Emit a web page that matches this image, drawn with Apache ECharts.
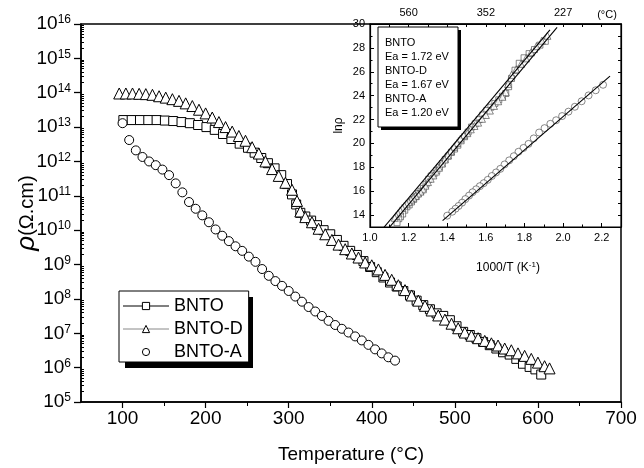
<!DOCTYPE html>
<html><head><meta charset="utf-8">
<script src="https://cdn.jsdelivr.net/npm/echarts@6/dist/echarts.min.js"></script>
<style>html,body{margin:0;padding:0;background:#fff}#c{width:644px;height:468px}</style>
</head><body><div id="c"></div>
<script>
// ---------- main plot data (Temperature °C, resistivity Ω.cm) ----------
const bntoT = [101,111,121,131,141,151,161,171,181,191,201,211,221,231,241,251,259,267,275,283,291,298,304,309,314,320,327,334,342,350,358,366,374,382,390,398,406,414,422,430,438,446,454,462,470,478,486,494,502,510,518,526,534,542,550,558,566,574,582,590,597,604];
const bntoRho = [1.6e13,1.6e13,1.6e13,1.6e13,1.6e13,1.55e13,1.5e13,1.4e13,1.3e13,1.15e13,1.0e13,8.3e12,6.3e12,4.5e12,3.3e12,2.5e12,1.8e12,1.26e12,8.9e11,6.3e11,4.0e11,2.2e11,1.1e11,5.6e10,3.2e10,2.5e10,1.9e10,1.4e10,1.0e10,7.6e9,5.2e9,3.5e9,2.5e9,1.9e9,1.26e9,8.5e8,6.0e8,4.2e8,3.0e8,2.3e8,1.7e8,1.26e8,8.9e7,6.6e7,5.0e7,3.8e7,3.2e7,2.4e7,1.6e7,1.1e7,8.9e6,7.2e6,5.6e6,4.5e6,3.6e6,2.8e6,2.4e6,1.8e6,1.3e6,1.05e6,8.9e5,6.3e5];

const bntoDT = [96,104,112,120,128,136,144,152,160,168,176,184,192,200,208,216,224,232,240,248,256,264,272,280,288,296,304,310,314,320,328,336,344,352,360,368,376,384,392,400,408,416,424,432,440,448,456,464,472,480,488,496,504,512,520,528,536,544,552,560,568,576,584,592,600,608,614];
const bntoDRho = [9.5e13,9.5e13,9.5e13,9.3e13,9.1e13,8.7e13,7.9e13,7.2e13,6.5e13,5.8e13,4.9e13,4.1e13,3.2e13,2.5e13,1.9e13,1.4e13,1.0e13,7.4e12,5.5e12,4.0e12,2.6e12,1.7e12,1.0e12,6.0e11,3.8e11,2.4e11,1.5e11,7.1e10,3.5e10,2.4e10,1.7e10,1.1e10,7.6e9,5.2e9,3.8e9,2.8e9,2.1e9,1.6e9,1.15e9,9.5e8,7.2e8,5.0e8,3.6e8,2.5e8,1.8e8,1.26e8,8.9e7,6.3e7,4.6e7,3.3e7,2.5e7,1.9e7,1.4e7,1.05e7,8.5e6,7.2e6,6.0e6,5.1e6,4.4e6,3.6e6,3.2e6,2.6e6,2.2e6,1.8e6,1.4e6,1.1e6,9.5e5];

const bntoAT = [100,108,116,124,132,140,148,156,164,172,180,188,196,204,212,220,228,236,244,252,260,268,276,284,292,300,308,316,324,332,340,348,356,364,372,380,388,396,404,412,420,428];
const bntoARho = [1.3e13,4.2e12,2.1e12,1.35e12,1.0e12,7.8e11,5.8e11,4.0e11,2.3e11,1.26e11,6.6e10,4.2e10,2.7e10,1.7e10,1.05e10,6.9e9,4.8e9,3.4e9,2.5e9,1.7e9,1.2e9,7.4e8,4.7e8,3.3e8,2.4e8,1.7e8,1.17e8,8.3e7,5.8e7,4.3e7,3.2e7,2.3e7,1.74e7,1.35e7,1.05e7,8.1e6,6.2e6,4.6e6,3.4e6,2.6e6,2.0e6,1.6e6];

// ---------- inset data (1000/T in K^-1, ln rho) ----------
const insBntoX = [1.908,1.880,1.852,1.824,1.798,1.773,1.751,1.733,1.718,1.703,1.686,1.667,1.647,1.626,1.605,1.584,1.565,1.545,1.526,1.508,1.490,1.472,1.455,1.438,1.422,1.406,1.390,1.375,1.360,1.346,1.331,1.317,1.304,1.290,1.277,1.264,1.251,1.239,1.226,1.215,1.203,1.191,1.180,1.169,1.158,1.149,1.140];
const insBntoY = [28.55,28.23,27.86,27.52,27.17,26.71,26.13,25.44,24.75,24.18,23.95,23.65,23.35,23.03,22.75,22.38,21.99,21.64,21.37,20.95,20.56,20.22,19.85,19.53,19.25,18.93,18.65,18.31,18.01,17.73,17.45,17.27,16.99,16.58,16.23,16.00,15.80,15.54,15.31,15.10,14.85,14.69,14.41,14.09,13.86,13.70,13.36];
const insBntoDX = [1.919,1.890,1.862,1.834,1.808,1.782,1.757,1.733,1.715,1.703,1.686,1.664,1.642,1.621,1.600,1.580,1.560,1.541,1.522,1.504,1.486,1.468,1.451,1.435,1.418,1.402,1.387,1.372,1.357,1.342,1.328,1.314,1.300,1.287,1.274,1.261,1.248,1.236,1.224,1.212,1.200,1.189,1.178,1.167,1.156,1.145,1.135,1.128];
const insBntoDY = [29.01,28.60,28.14,27.63,27.12,26.66,26.20,25.74,24.98,24.29,23.90,23.53,23.14,22.75,22.38,22.06,21.74,21.46,21.18,20.86,20.68,20.40,20.03,19.71,19.34,19.00,18.65,18.31,17.96,17.64,17.32,17.04,16.76,16.46,16.16,15.96,15.80,15.61,15.45,15.29,15.10,14.97,14.78,14.60,14.39,14.14,13.93,13.77];
const insBntoAX = [2.207,2.169,2.132,2.096,2.061,2.028,1.995,1.964,1.934,1.904,1.876,1.848,1.821,1.795,1.769,1.745,1.721,1.697,1.675,1.653,1.631,1.610,1.589,1.569,1.550,1.531,1.513,1.494,1.477,1.459,1.443,1.426,1.400];
const insBntoAY = [24.91,24.45,24.02,23.53,23.07,22.66,22.29,21.94,21.64,21.28,20.91,20.42,19.96,19.62,19.30,18.93,18.58,18.24,17.87,17.57,17.27,16.95,16.67,16.42,16.16,15.91,15.63,15.34,15.04,14.76,14.53,14.28,13.95];
// fitted Arrhenius lines (end points)
const fitBnto  = [[1.068,12.89],[1.932,29.50]];
const fitBntoD = [[1.086,12.69],[1.969,29.72]];
const fitBntoA = [[1.376,13.53],[2.243,25.64]];

// ---------- ticks / labels ----------
const xMajor = [100,200,300,400,500,600,700];
const xMinor = [150,250,350,450,550,650];
const yExpMin = 5, yExpMax = 16;
const insXMajor = [1.0,1.2,1.4,1.6,1.8,2.0,2.2];
const insXMinor = [1.1,1.3,1.5,1.7,1.9,2.1,2.3];
const insYMajor = [14,16,18,20,22,24,26,28,30];
const insYMinor = [13,15,17,19,21,23,25,27,29];
const insTopPos = [1.2,1.6,2.0];
const insTopLabels = ['560','352','227'];
const insNotes = ['BNTO','Ea = 1.72 eV','BNTO-D','Ea = 1.67 eV','BNTO-A','Ea = 1.20 eV'];

const FONT = '"Liberation Sans", Arial, Helvetica, sans-serif';
const pairs = (xs, ys) => xs.map((x, i) => [x, ys[i]]);
// log-decade minor tick positions (in decade units)
const yMinorPos = [];
for (let n = yExpMin; n < yExpMax; n++) for (let k = 2; k <= 9; k++) yMinorPos.push(n + Math.log10(k));

const chart = echarts.init(document.getElementById('c'), null, {renderer: 'canvas'});
const legendItem = {borderWidth: 1, borderColor: '#000', color: '#fff'};
const option = {
  animation: false,
  backgroundColor: '#fff',
  textStyle: {fontFamily: FONT, color: '#000'},
  grid: [
    {left: 81, top: 24, right: 23, bottom: 66, show: true, borderColor: '#000', borderWidth: 1.5,
     backgroundColor: 'rgba(0,0,0,0)', containLabel: false, outerBoundsMode: 'none'},
    {left: 370, top: 24, right: 23, bottom: 241, show: true, borderColor: '#000', borderWidth: 1.2,
     backgroundColor: '#fff', containLabel: false, outerBoundsMode: 'none'}
  ],
  xAxis: [
    {gridIndex: 0, type: 'value', min: 50, max: 700, position: 'bottom',
     axisLine: {lineStyle: {color: '#000', width: 1.5}},
     axisTick: {customValues: xMajor, length: 6, lineStyle: {color: '#000', width: 1.2}},
     axisLabel: {customValues: xMajor, fontSize: 19, color: '#000', margin: 7, fontFamily: FONT},
     splitLine: {show: false},
     name: 'Temperature (°C)', nameLocation: 'middle', nameGap: 43, nameMoveOverlap: false,
     nameTextStyle: {fontSize: 19, color: '#000', fontFamily: FONT}},
    {gridIndex: 0, type: 'value', min: 50, max: 700, position: 'bottom',
     axisLine: {show: false}, axisTick: {customValues: xMinor, length: 4, lineStyle: {color: '#000', width: 1}},
     axisLabel: {show: false}, splitLine: {show: false}},
    {gridIndex: 1, type: 'value', min: 1.0, max: 2.3, position: 'bottom',
     axisLine: {lineStyle: {color: '#000', width: 1.2}},
     axisTick: {customValues: insXMajor, inside: true, length: 4, lineStyle: {color: '#000', width: 1}},
     axisLabel: {customValues: insXMajor, fontSize: 11, color: '#000', margin: 5, fontFamily: FONT, formatter: v => v.toFixed(1)},
     splitLine: {show: false}},
    {gridIndex: 1, type: 'value', min: 1.0, max: 2.3, position: 'bottom',
     axisLine: {show: false}, axisTick: {customValues: insXMinor, inside: true, length: 2.5, lineStyle: {color: '#000', width: 1}},
     axisLabel: {show: false}, splitLine: {show: false}},
    {gridIndex: 1, type: 'value', min: 1.0, max: 2.3, position: 'top',
     axisLine: {lineStyle: {color: '#000', width: 1.2}},
     axisTick: {customValues: insXMajor.concat(insXMinor), inside: true, length: 3, lineStyle: {color: '#000', width: 1}},
     axisLabel: {customValues: insTopPos, fontSize: 11, color: '#000', margin: 6, fontFamily: FONT,
       formatter: v => { const i = insTopPos.findIndex(p => Math.abs(p - v) < 1e-6); return i >= 0 ? insTopLabels[i] : ''; }},
     splitLine: {show: false}}
  ],
  yAxis: [
    {gridIndex: 0, type: 'log', logBase: 10, min: Math.pow(10, yExpMin), max: Math.pow(10, yExpMax), position: 'left',
     axisLine: {show: false}, axisTick: {show: false}, axisLabel: {show: false}, splitLine: {show: false}},
    {gridIndex: 0, type: 'value', min: yExpMin, max: yExpMax, interval: 1, position: 'left',
     axisLine: {show: true, lineStyle: {color: '#000', width: 1.5}},
     axisTick: {show: true, length: 7, lineStyle: {color: '#000', width: 1.3}},
     axisLabel: {margin: 10, color: '#000', formatter: v => '{b|10}{s|' + v + '}',
       rich: {b: {fontSize: 19, fontFamily: FONT, color: '#000', lineHeight: 20},
              s: {fontSize: 12, fontFamily: FONT, color: '#000', lineHeight: 12, verticalAlign: 'top'}}},
     splitLine: {show: false},
     name: '{i|ρ}{n|(Ω.cm)}', nameLocation: 'middle', nameGap: 41, nameRotate: 90, nameMoveOverlap: false,
     nameTextStyle: {rich: {i: {fontSize: 26, fontStyle: 'italic', fontFamily: FONT, color: '#000'},
                            n: {fontSize: 20, fontFamily: FONT, color: '#000'}}}},
    {gridIndex: 0, type: 'value', min: yExpMin, max: yExpMax, position: 'left',
     axisLine: {show: false}, axisTick: {customValues: yMinorPos, inside: true, length: 3, lineStyle: {color: '#000', width: 1}},
     axisLabel: {show: false}, splitLine: {show: false}},
    {gridIndex: 1, type: 'value', min: 13, max: 30, position: 'left',
     axisLine: {lineStyle: {color: '#000', width: 1.2}},
     axisTick: {customValues: insYMajor, inside: true, length: 4, lineStyle: {color: '#000', width: 1}},
     axisLabel: {customValues: insYMajor, fontSize: 11, color: '#000', margin: 5, fontFamily: FONT},
     splitLine: {show: false},
     name: 'lnρ', nameLocation: 'middle', nameGap: 25, nameRotate: 90, nameMoveOverlap: false,
     nameTextStyle: {fontSize: 12, color: '#000', fontFamily: FONT}},
    {gridIndex: 1, type: 'value', min: 13, max: 30, position: 'left',
     axisLine: {show: false}, axisTick: {customValues: insYMinor, inside: true, length: 2.5, lineStyle: {color: '#000', width: 1}},
     axisLabel: {show: false}, splitLine: {show: false}},
    {gridIndex: 1, type: 'value', min: 13, max: 30, position: 'right',
     axisLine: {lineStyle: {color: '#000', width: 1.2}},
     axisTick: {customValues: insYMajor.concat(insYMinor), inside: true, length: 3, lineStyle: {color: '#000', width: 1}},
     axisLabel: {show: false}, splitLine: {show: false}}
  ],
  legend: {
    data: [
      {name: 'BNTO', lineStyle: {color: '#000', width: 1, opacity: 1}, itemStyle: legendItem},
      {name: 'BNTO-D', lineStyle: {color: '#888', width: 1, opacity: 1}, itemStyle: legendItem},
      {name: 'BNTO-A', lineStyle: {opacity: 0}, itemStyle: legendItem}
    ],
    orient: 'vertical', left: 119, top: 291, padding: [6, 6, 1, 3], itemGap: 5,
    itemWidth: 46, itemHeight: 9, selectedMode: false, z: 20,
    backgroundColor: '#fff', borderColor: '#000', borderWidth: 1,
    textStyle: {fontSize: 18, lineHeight: 18, color: '#000', fontFamily: FONT}
  },
  series: [
    {name: 'BNTO', type: 'line', xAxisIndex: 0, yAxisIndex: 0, data: pairs(bntoT, bntoRho),
     symbol: 'rect', symbolSize: 9, showSymbol: true, showAllSymbol: true, z: 2,
     lineStyle: {opacity: 0}, itemStyle: {color: '#fff', borderColor: '#000', borderWidth: 1}},
    {name: 'BNTO-D', type: 'line', xAxisIndex: 0, yAxisIndex: 0, data: pairs(bntoDT, bntoDRho),
     symbol: 'triangle', symbolSize: 11, showSymbol: true, showAllSymbol: true, z: 3,
     lineStyle: {opacity: 0}, itemStyle: {color: '#fff', borderColor: '#000', borderWidth: 1}},
    {name: 'BNTO-A', type: 'line', xAxisIndex: 0, yAxisIndex: 0, data: pairs(bntoAT, bntoARho),
     symbol: 'circle', symbolSize: 9, showSymbol: true, showAllSymbol: true, z: 4,
     lineStyle: {opacity: 0}, itemStyle: {color: '#fff', borderColor: '#000', borderWidth: 1}},
    {name: 'BNTO inset', type: 'scatter', xAxisIndex: 2, yAxisIndex: 3, data: pairs(insBntoX, insBntoY),
     symbol: 'rect', symbolSize: 6, z: 3, itemStyle: {color: '#fff', borderColor: '#444', borderWidth: 0.8}},
    {name: 'BNTO-D inset', type: 'scatter', xAxisIndex: 2, yAxisIndex: 3, data: pairs(insBntoDX, insBntoDY),
     symbol: 'triangle', symbolSize: 7, z: 3, itemStyle: {color: '#fff', borderColor: '#444', borderWidth: 0.8}},
    {name: 'BNTO-A inset', type: 'scatter', xAxisIndex: 2, yAxisIndex: 3, data: pairs(insBntoAX, insBntoAY),
     symbol: 'circle', symbolSize: 7, z: 3, itemStyle: {color: '#fff', borderColor: '#444', borderWidth: 0.8}},
    {name: 'fit BNTO', type: 'line', xAxisIndex: 2, yAxisIndex: 3, data: fitBnto, symbol: 'none', z: 5,
     lineStyle: {color: '#000', width: 1.1}},
    {name: 'fit BNTO-D', type: 'line', xAxisIndex: 2, yAxisIndex: 3, data: fitBntoD, symbol: 'none', z: 5,
     lineStyle: {color: '#000', width: 1.1}},
    {name: 'fit BNTO-A', type: 'line', xAxisIndex: 2, yAxisIndex: 3, data: fitBntoA, symbol: 'none', z: 5,
     lineStyle: {color: '#000', width: 1.1}}
  ],
  graphic: [
    // drop shadow of main legend box
    {type: 'rect', x: 125, y: 297, z: 10, shape: {width: 128, height: 71}, style: {fill: '#000'}},
    // inset annotation box with shadow
    {type: 'rect', x: 381, y: 30, z: 100, shape: {width: 80, height: 100}, style: {fill: '#000'}},
    {type: 'rect', x: 378, y: 27, z: 101, shape: {width: 80, height: 100}, style: {fill: '#fff', stroke: '#000', lineWidth: 1}},
    {type: 'text', x: 385, y: 36, z: 102,
     style: {text: insNotes.join('\n'), fontSize: 11, fontFamily: FONT, lineHeight: 14, fill: '#000'}},
    {type: 'text', x: 607, y: 15, z: 102,
     style: {text: '(°C)', fontSize: 11, fontFamily: FONT, fill: '#000', align: 'center', verticalAlign: 'middle'}},
    {type: 'text', x: 508, y: 268, z: 102,
     style: {text: '{n|1000/T (K}{s|-1}{n|)}', align: 'center', verticalAlign: 'middle', fill: '#000',
       rich: {n: {fontSize: 12, fontFamily: FONT, lineHeight: 14}, s: {fontSize: 8, fontFamily: FONT, lineHeight: 9, verticalAlign: 'top'}}}}
  ]
};
chart.setOption(option);
</script>
</body></html>
